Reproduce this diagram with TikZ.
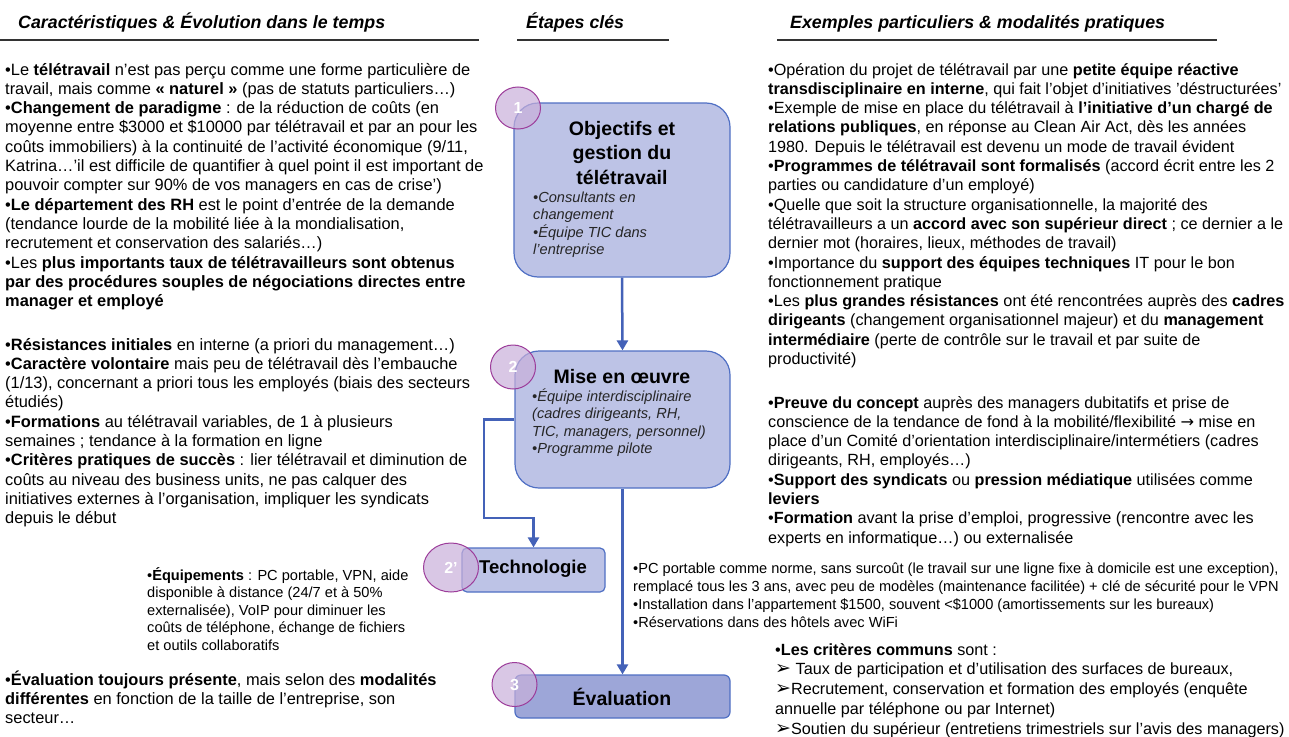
\documentclass[tikz,border=0pt]{standalone}
\usepackage{fontspec}
\setmainfont{Liberation Sans}
\newfontfamily\symbfont{DejaVu Sans}
\usetikzlibrary{positioning,arrows.meta,shapes.geometric}
\definecolor{fondbleu}{HTML}{BDC3E6}
\definecolor{fondeval}{HTML}{9DA6D8}
\definecolor{bordbleu}{HTML}{5070C4}
\definecolor{flechebleu}{HTML}{4462B8}
\definecolor{fondviolet}{HTML}{C9B0DA}
\definecolor{bordviolet}{HTML}{9C3C9A}
\newcommand{\puce}{{\symbfont\fontsize{19}{19.8}\selectfont\char"27A2}}

\begin{document}
\begin{tikzpicture}[x=1pt,y=-1pt,
  titre/.style={anchor=base west,inner sep=0pt,font=\fontsize{17.8}{20}\selectfont\bfseries\itshape},
  corps/.style={anchor=base west,inner sep=0pt,align=left,font=\fontsize{16.4}{19.3}\selectfont},
  droite/.style={corps,font=\fontsize{16.2}{19.3}\selectfont},
  petit/.style={anchor=base west,inner sep=0pt,align=left,font=\fontsize{14.6}{17.6}\selectfont},
  liste/.style={anchor=base west,inner sep=0pt,align=left,text=black!85,font=\fontsize{14.6}{17.3}\selectfont\itshape},
  etape/.style={draw=bordbleu,fill=fondbleu,line width=1.2pt,rounded corners=24pt},
  nom/.style={inner sep=0pt,align=center,font=\fontsize{19.5}{24.5}\selectfont\bfseries},
  pastille/.style={ellipse,draw=bordviolet,fill=fondviolet,fill opacity=0.7,text opacity=1,line width=1pt,
    minimum width=45pt,minimum height=44pt,inner sep=0pt,text=white,font=\fontsize{16}{16}\selectfont\bfseries},
  fleche/.style={draw=flechebleu,line width=2.5pt,-{Triangle[length=10pt,width=11pt]}},
  filet/.style={draw=black!80,line width=1.2pt}]

\useasboundingbox[fill=white] (0,0) rectangle (1289,736);

% en-tetes des trois colonnes (base = derniere ligne des blocs)
\node[titre] (tcarac) at (18,28) {Caractéristiques \& Évolution dans le temps};
\node[titre] (tetapes) at (526,28) {Étapes clés};
\node[titre] (texemples) at (790,28) {Exemples particuliers \& modalités pratiques};
\draw[filet] (0,40) -- (479,40);
\draw[filet] (517,40) -- (669,40);
\draw[filet] (777,40) -- (1217,40);

% colonne de gauche
\node[corps] (carac1) at (5,306.6) {•Le \textbf{télétravail} n'est pas perçu comme une forme particulière de\\
travail, mais comme \textbf{« naturel »} (pas de statuts particuliers…)\\
•\textbf{Changement de paradigme} : de la réduction de coûts (en\\
moyenne entre \$3000 et \$10000 par télétravail et par an pour les\\
coûts immobiliers) à la continuité de l'activité économique (9/11,\\
Katrina…'il est difficile de quantifier à quel point il est important de\\
pouvoir compter sur 90\% de vos managers en cas de crise')\\
•\textbf{Le département des RH} est le point d'entrée de la demande\\
(tendance lourde de la mobilité liée à la mondialisation,\\
recrutement et conservation des salariés…)\\
•Les \textbf{plus importants taux de télétravailleurs sont obtenus}\\
\textbf{par des procédures souples de négociations directes entre}\\
\textbf{manager et employé}};
\node[corps] (carac2) at (5,523.7) {•\textbf{Résistances initiales} en interne (a priori du management…)\\
•\textbf{Caractère volontaire} mais peu de télétravail dès l'embauche\\
(1/13), concernant a priori tous les employés (biais des secteurs\\
étudiés)\\
•\textbf{Formations} au télétravail variables, de 1 à plusieurs\\
semaines ; tendance à la formation en ligne\\
•\textbf{Critères pratiques de succès} : lier télétravail et diminution de\\
coûts au niveau des business units, ne pas calquer des\\
initiatives externes à l'organisation, impliquer les syndicats\\
depuis le début};
\node[petit] (equip) at (147,650.4) {•\textbf{Équipements} : PC portable, VPN, aide\\
disponible à distance (24/7 et à 50\%\\
externalisée), VoIP pour diminuer les\\
coûts de téléphone, échange de fichiers\\
et outils collaboratifs};
\node[corps] (carac3) at (5,723.6) {•\textbf{Évaluation toujours présente}, mais selon des \textbf{modalités}\\
\textbf{différentes} en fonction de la taille de l'entreprise, son\\
secteur…};

% etapes cles
\node[etape,minimum width=216pt,minimum height=174pt] (objectifs) at (622,190) {};
\node[etape,minimum width=215pt,minimum height=137pt] (miseoeuvre) at (622.5,419.5) {};
\node[etape,rounded corners=5pt,minimum width=143pt,minimum height=44pt] (techno) at (533.5,570) {};
\node[etape,fill=fondeval,rounded corners=6pt,minimum width=215pt,minimum height=43pt] (evaluation) at (622.5,696.5) {};

\node[nom] (nobjectifs) at (622,153) {Objectifs et\\gestion du\\télétravail};
\node[liste] (lobjectifs) at (533,254.4) {•Consultants en\\changement\\•Équipe TIC dans\\l'entreprise};
\node[nom] (nmiseoeuvre) at (622,377) {Mise en œuvre};
\node[liste] (lmiseoeuvre) at (532,453.4) {•Équipe interdisciplinaire\\(cadres dirigeants, RH,\\TIC, managers, personnel)\\•Programme pilote};
\node[nom,font=\fontsize{18.5}{20}\selectfont\bfseries] (ntechno) at (533,569) {Technologie};
\node[nom] (nevaluation) at (622,697) {Évaluation};

\node[pastille,minimum height=42pt] (p1) at (518,108) {1};
\node[pastille] (p2) at (513,367) {2};
\node[pastille,minimum width=55pt,minimum height=49pt] (p2b) at (451,567.5) {2'};
\node[pastille] (p3) at (514.5,684.5) {3};

\coordinate (coude) at (484,518);
\draw[fleche] (objectifs.south) -- (miseoeuvre.north);
\draw[fleche] (miseoeuvre.south) -- (evaluation.north);
\draw[fleche] (miseoeuvre.west) -| (coude) -| (techno.north);

% colonne de droite
\node[droite] (exemple1) at (768,364.5) {•Opération du projet de télétravail par une \textbf{petite équipe réactive}\\
\textbf{transdisciplinaire en interne}, qui fait l'objet d'initiatives 'déstructurées'\\
•Exemple de mise en place du télétravail à \textbf{l'initiative d'un chargé de}\\
\textbf{relations publiques}, en réponse au Clean Air Act, dès les années\\
1980. Depuis le télétravail est devenu un mode de travail évident\\
•\textbf{Programmes de télétravail sont formalisés} (accord écrit entre les 2\\
parties ou candidature d'un employé)\\
•Quelle que soit la structure organisationnelle, la majorité des\\
télétravailleurs a un \textbf{accord avec son supérieur direct} ; ce dernier a le\\
dernier mot (horaires, lieux, méthodes de travail)\\
•Importance du \textbf{support des équipes techniques} IT pour le bon\\
fonctionnement pratique\\
•Les \textbf{plus grandes résistances} ont été rencontrées auprès des \textbf{cadres}\\
\textbf{dirigeants} (changement organisationnel majeur) et du \textbf{management}\\
\textbf{intermédiaire} (perte de contrôle sur le travail et par suite de\\
productivité)};
\node[droite] (exemple2) at (768,543.1) {•\textbf{Preuve du concept} auprès des managers dubitatifs et prise de\\
conscience de la tendance de fond à la mobilité/flexibilité {\symbfont →} mise en\\
place d'un Comité d'orientation interdisciplinaire/intermétiers (cadres\\
dirigeants, RH, employés…)\\
•\textbf{Support des syndicats} ou \textbf{pression médiatique} utilisées comme\\
\textbf{leviers}\\
•\textbf{Formation} avant la prise d'emploi, progressive (rencontre avec les\\
experts en informatique…) ou externalisée};
\node[petit,font=\fontsize{14.6}{18}\selectfont] (portable) at (633,627) {•PC portable comme norme, sans surcoût (le travail sur une ligne fixe à domicile est une exception),\\
remplacé tous les 3 ans, avec peu de modèles (maintenance facilitée) + clé de sécurité pour le VPN\\
•Installation dans l'appartement \$1500, souvent <\$1000 (amortissements sur les bureaux)\\
•Réservations dans des hôtels avec WiFi};
\node[droite,font=\fontsize{16.2}{19.8}\selectfont] (criteres) at (775,734.2) {•\textbf{Les critères communs} sont :\\
\puce{} Taux de participation et d'utilisation des surfaces de bureaux,\\
\puce Recrutement, conservation et formation des employés (enquête\\
annuelle par téléphone ou par Internet)\\
\puce Soutien du supérieur (entretiens trimestriels sur l'avis des managers)};
\end{tikzpicture}
\end{document}
